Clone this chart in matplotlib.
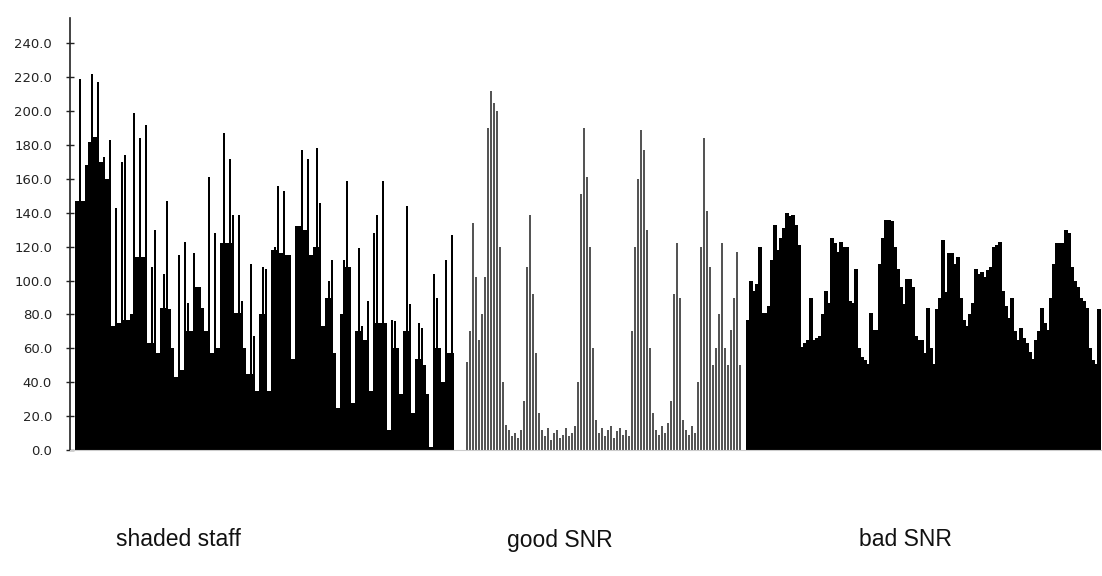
import matplotlib
matplotlib.use("Agg")
import matplotlib.pyplot as plt
import matplotlib.transforms as mtransforms
import numpy as np

# ---- data ----
shaded_staff = [147, 219, 147, 168, 182, 222, 185, 217, 170, 173, 160, 183, 73, 143, 75, 170,
                174, 77, 80, 199, 114, 184, 114, 192, 63, 108, 130, 57, 84, 104, 147, 83,
                60, 43, 115, 47, 123, 87, 70, 116, 96, 96, 84, 70, 161, 57, 128, 60,
                122, 187, 122, 172, 139, 81, 139, 88, 60, 45, 110, 67, 35, 80, 108, 107,
                35, 118, 120, 156, 116, 153, 115, 115, 54, 132, 132, 177, 130, 172, 115, 120,
                178, 146, 73, 90, 100, 112, 57, 25, 80, 112, 159, 108, 28, 70, 119, 73,
                65, 88, 35, 128, 139, 75, 159, 75, 12, 77, 76, 60, 33, 70, 144, 86,
                22, 54, 75, 72, 50, 33, 2, 104, 90, 60, 40, 112, 57, 127]

good_snr = [52, 70, 134, 102, 65, 80, 102, 190, 212, 205, 200, 120, 40, 15, 12, 8,
            10, 7, 12, 29, 108, 139, 92, 57, 22, 12, 8, 13, 6, 10, 12, 7,
            9, 13, 8, 10, 14, 40, 151, 190, 161, 120, 60, 18, 10, 13, 8, 12,
            14, 7, 11, 13, 9, 12, 8, 70, 120, 160, 189, 177, 130, 60, 22, 12,
            9, 14, 10, 16, 29, 92, 122, 90, 18, 12, 9, 14, 10, 40, 120, 184,
            141, 108, 50, 60, 80, 122, 60, 50, 71, 90, 117, 50]

bad_snr = [77, 100, 94, 98, 120, 81, 81, 85, 112, 133, 118, 125, 131, 140, 138, 139,
           133, 121, 61, 63, 65, 90, 65, 66, 67, 80, 94, 87, 125, 122, 117, 123,
           120, 120, 88, 87, 107, 60, 55, 53, 51, 81, 71, 71, 110, 125, 136, 136,
           135, 120, 107, 96, 86, 101, 101, 96, 67, 65, 65, 57, 84, 60, 51, 83,
           90, 124, 93, 116, 116, 110, 114, 90, 77, 73, 80, 87, 107, 104, 105, 102,
           106, 108, 120, 121, 123, 94, 85, 78, 90, 70, 65, 72, 66, 63, 58, 54,
           65, 70, 84, 75, 71, 90, 110, 122, 122, 122, 130, 128, 108, 100, 96, 90,
           88, 84, 60, 53, 51, 83]

group_labels = ["shaded staff", "good SNR", "bad SNR"]
y_ticks = [0, 20, 40, 60, 80, 100, 120, 140, 160, 180, 200, 220, 240]

# ---- layout ----
W, H = 1102, 576
fig = plt.figure(figsize=(W / 100, H / 100), dpi=100)
ax = fig.add_axes([70 / W, 1 - 450 / H, 1 - 70 / W, (450 - 18) / H])

step = 3.0


def base_of(vals):
    v = np.asarray(vals, dtype=float)
    left = np.r_[v[0], v[:-1]]
    right = np.r_[v[1:], v[-1]]
    return np.minimum(np.minimum(left, right), v)


# shaded staff: spikes over a solid base
xs = 77 + step * np.arange(len(shaded_staff))
ax.bar(xs, base_of(shaded_staff), width=3.3, color="black", linewidth=0)
ax.bar(xs, shaded_staff, width=2.6, color="black", linewidth=0)

# good SNR: grey striped lines
xs = 467 + step * np.arange(len(good_snr))
ax.bar(xs, good_snr, width=2.6, color="#555555", linewidth=0)

# bad SNR: solid blocky profile
xs = 748 + step * np.arange(len(bad_snr))
ax.bar(xs, bad_snr, width=3.3, color="black", linewidth=0)

ax.set_xlim(70, 1102)
ax.set_ylim(0, 255)

ax.set_yticks(y_ticks)
ax.set_yticklabels([f"{v:.1f}" for v in y_ticks], fontsize=9.5, color="#222222")
ax.tick_params(axis="y", direction="inout", length=6, width=1, pad=10, colors="#222222")
ax.set_xticks([])

for s in ["top", "right"]:
    ax.spines[s].set_visible(False)
ax.spines["left"].set_color("#222222")
ax.spines["left"].set_linewidth(1.2)
ax.spines["bottom"].set_color("#cccccc")
ax.spines["bottom"].set_linewidth(0.8)

trans = mtransforms.blended_transform_factory(ax.transData, fig.transFigure)
label_x = [178, 560, 905]
for lx, txt in zip(label_x, group_labels):
    ax.text(lx, 1 - 540 / H, txt, transform=trans, ha="center", va="center",
            fontsize=16.5, family="Liberation Sans", color="#111111")

fig.savefig("out.png", dpi=100)
